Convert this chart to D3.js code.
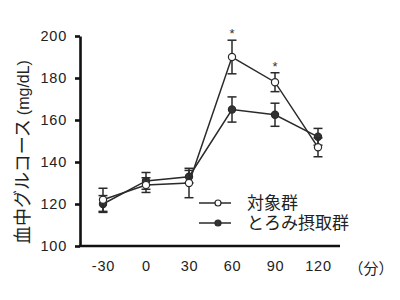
<!DOCTYPE html>
<html><head><meta charset="utf-8">
<script src="https://cdn.jsdelivr.net/npm/d3@7"></script>
<style>body{margin:0;background:#fff}svg{display:block}</style>
</head><body>
<svg id="c" width="400" height="300"></svg>
<script>
const times = [-30, 0, 30, 60, 90, 120];
const controlMean = [122, 129, 130, 190, 178, 147];
const controlErr  = [5.5, 3.5, 7, 8, 4.5, 4.5];
const thickMean   = [120, 131, 133, 165, 162.5, 152];
const thickErr    = [4, 4, 3, 6, 5.5, 4];
const yTicks = [100, 120, 140, 160, 180, 200];
const sigTimes = [60, 90];
const seriesNames = ["対象群", "とろみ摂取群"];

const svg = d3.select("#c");
const x = d3.scaleLinear().domain([-30, 120]).range([103, 318]);
const y = d3.scaleLinear().domain([100, 200]).range([246, 36]);
const ink = "#2a2a2a";
const numFont = "Liberation Sans, Arial, sans-serif";
const jpFont = "'Noto Sans CJK JP', sans-serif";

// Y axis
const ya = svg.append("g").attr("transform", "translate(80,0)")
  .call(d3.axisLeft(y).tickValues(yTicks).tickSize(5).tickSizeOuter(0).tickPadding(8));
ya.select(".domain").attr("stroke", "#111").attr("stroke-width", 2.6);
ya.selectAll(".tick line").attr("stroke", "#111").attr("stroke-width", 2.6);
ya.selectAll(".tick text").attr("font-family", numFont).attr("font-size", 14.5)
  .attr("letter-spacing", 0.8).attr("fill", "#222");

// X axis
const xa = svg.append("g").attr("transform", "translate(0,246)")
  .call(d3.axisBottom(x).tickValues(times).tickFormat(d => String(d)).tickSize(0).tickPadding(15));
xa.select(".domain").remove();
svg.append("line").attr("x1", 79).attr("x2", 340).attr("y1", 246).attr("y2", 246)
  .attr("stroke", "#111").attr("stroke-width", 2.6);
xa.selectAll(".tick text").attr("font-family", numFont).attr("font-size", 14.5)
  .attr("letter-spacing", 0.8).attr("fill", "#222");
svg.append("text").attr("x", 371).attr("y", 274).attr("text-anchor", "middle")
  .attr("font-family", jpFont).attr("font-size", 15).attr("fill", "#222").text("（分）");

// Y title
const yt = svg.append("text").attr("transform", "translate(29,152) rotate(-90)")
  .attr("text-anchor", "middle").attr("font-family", jpFont).attr("font-size", 18).attr("fill", "#222");
yt.append("tspan").text("血中グルコース ");
yt.append("tspan").attr("font-family", numFont).attr("font-size", 16).text("(mg/dL)");

function drawSeries(means, errs) {
  const data = times.map((t, i) => ({t, m: means[i], e: errs[i]}));
  const g = svg.append("g");
  g.selectAll("g.err").data(data).join("g").attr("class", "err").each(function(d) {
    const s = d3.select(this);
    const cx = x(d.t);
    s.append("line").attr("x1", cx).attr("x2", cx).attr("y1", y(d.m - d.e)).attr("y2", y(d.m + d.e));
    s.append("line").attr("x1", cx - 4.5).attr("x2", cx + 4.5).attr("y1", y(d.m - d.e)).attr("y2", y(d.m - d.e));
    s.append("line").attr("x1", cx - 4.5).attr("x2", cx + 4.5).attr("y1", y(d.m + d.e)).attr("y2", y(d.m + d.e));
  }).attr("stroke", ink).attr("stroke-width", 1.5);
  g.append("path").datum(data)
    .attr("d", d3.line().x(d => x(d.t)).y(d => y(d.m)))
    .attr("fill", "none").attr("stroke", ink).attr("stroke-width", 1.5);
  return g;
}
const gC = drawSeries(controlMean, controlErr);
const gT = drawSeries(thickMean, thickErr);
gT.selectAll("circle").data(times.map((t, i) => ({t, m: thickMean[i]}))).join("circle")
  .attr("cx", d => x(d.t)).attr("cy", d => y(d.m)).attr("r", 3.6)
  .attr("fill", "#333").attr("stroke", ink).attr("stroke-width", 1.2);
gC.raise();
gC.selectAll("circle").data(times.map((t, i) => ({t, m: controlMean[i]}))).join("circle")
  .attr("cx", d => x(d.t)).attr("cy", d => y(d.m)).attr("r", 3.6)
  .attr("fill", "#fff").attr("stroke", ink).attr("stroke-width", 1.2);

// asterisks
svg.selectAll("text.sig").data(sigTimes).join("text").attr("class", "sig")
  .attr("x", d => x(d)).attr("y", d => y(controlMean[times.indexOf(d)] + controlErr[times.indexOf(d)]) - 2)
  .attr("text-anchor", "middle").attr("font-family", numFont).attr("font-size", 13).attr("fill", "#333").text("*");

// legend
const lg = svg.append("g");
seriesNames.forEach((name, i) => {
  const ly = 203 + i * 20;
  lg.append("line").attr("x1", 199).attr("x2", 231).attr("y1", ly).attr("y2", ly)
    .attr("stroke", ink).attr("stroke-width", 1.5);
  lg.append("circle").attr("cx", 218).attr("cy", ly).attr("r", 3)
    .attr("fill", i === 0 ? "#fff" : "#333").attr("stroke", ink).attr("stroke-width", 1.2);
  lg.append("text").attr("x", 247).attr("y", ly + 6).attr("font-family", jpFont)
    .attr("font-size", 17).attr("fill", "#222").text(name);
});
</script>
</body></html>
